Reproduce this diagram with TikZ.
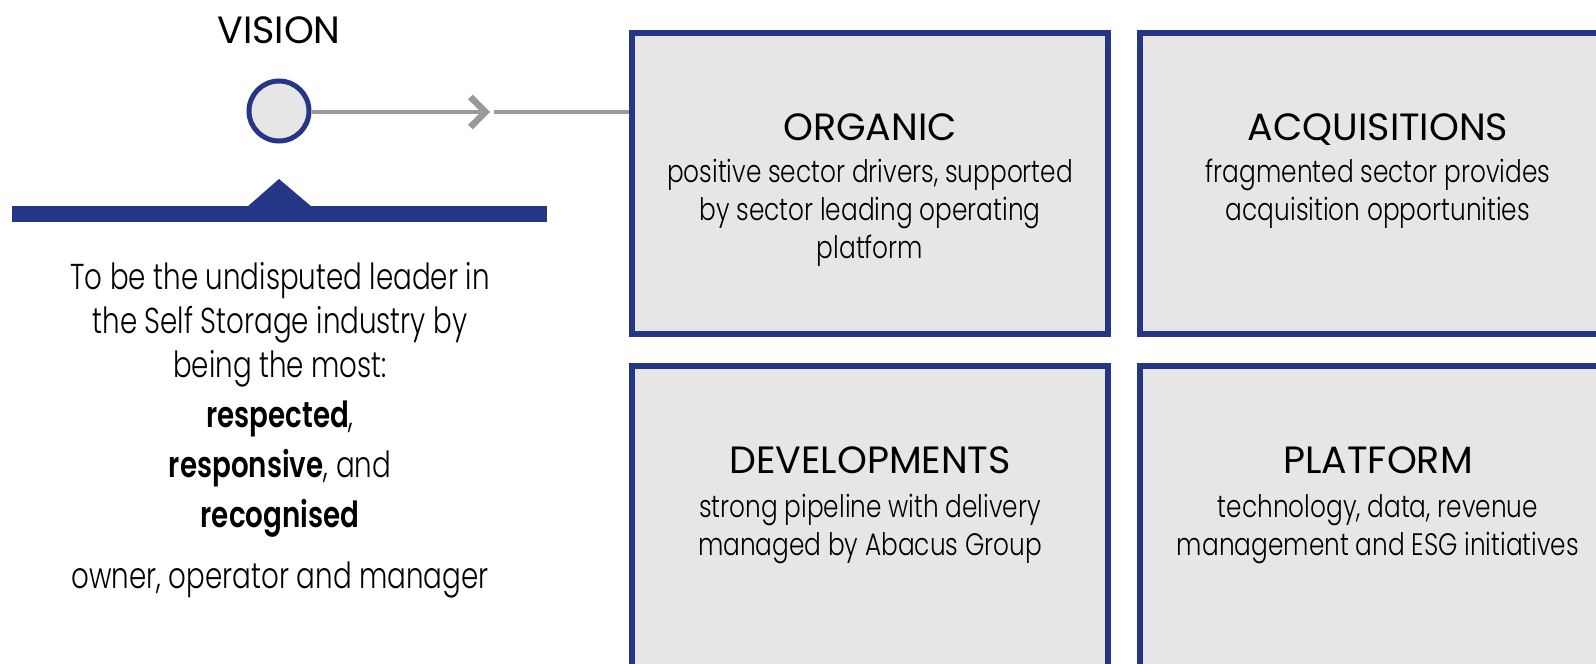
\documentclass[tikz,border=0pt]{standalone}
\usepackage{fontspec}
\usetikzlibrary{arrows.meta,positioning}
\setmainfont{Poppins}[UprightFont={* Light}, BoldFont={* SemiBold}]
\newfontfamily\leftfont{Poppins}[UprightFont={* Light}, BoldFont={* SemiBold}, FakeStretch=0.77]
\newfontfamily\headfont{Poppins}
\newfontfamily\boxfont{Poppins}[UprightFont={* Light}, FakeStretch=0.8]
\definecolor{navy}{HTML}{253686}
\definecolor{boxgray}{HTML}{E6E6E6}
\definecolor{linegray}{HTML}{999999}

\begin{document}
\begin{tikzpicture}[x=1pt, y=-1pt, line cap=butt, node distance=26pt]
   \tikzset{pillar/.style={rectangle, draw=navy, fill=boxgray, line width=6pt, minimum width=476pt, minimum height=301pt},
            pillartitle/.style={font=\headfont\fontsize{38}{38}\selectfont, anchor=base, inner sep=0pt},
            pillartext/.style={font=\boxfont\fontsize{31}{38}\selectfont, align=center, anchor=base, inner sep=0pt},
            hub/.style={circle, draw=navy, fill=boxgray, line width=5pt, minimum size=60pt, inner sep=0pt},
            link/.style={draw=linegray, line width=4pt},}
   \useasboundingbox (0,0) rectangle (1596,664);

   % vision marker
   \node[pillartitle] (vision_t) at (279,43) {VISION};
   \node[hub] (vision) at (279,111) {};
   \coordinate (chev) at (490,112);

   % the four pillars
   \node[pillar] (organic) at (870,183.5) {};
   \node[pillar] (acquisitions) [right=of organic] {};
   \node[pillar] (developments) [below=of organic] {};
   \node[pillar] (platform) [right=of developments] {};

   % texts sit on the baseline of their last line
   \node[pillartitle] (organic_t) at ([yshift=-110pt]organic.north) {ORGANIC};
   \node[pillartext] (organic_d) at ([yshift=-228pt]organic.north) {positive sector drivers, supported\\by sector leading operating\\platform};
   \node[pillartitle] (acquisitions_t) at ([yshift=-110pt]acquisitions.north) {ACQUISITIONS};
   \node[pillartext] (acquisitions_d) at ([yshift=-190pt]acquisitions.north) {fragmented sector provides\\acquisition opportunities};
   \node[pillartitle] (developments_t) at ([yshift=-110pt]developments.north) {DEVELOPMENTS};
   \node[pillartext] (developments_d) at ([yshift=-192pt]developments.north) {strong pipeline with delivery\\managed by Abacus Group};
   \node[pillartitle] (platform_t) at ([yshift=-110pt]platform.north) {PLATFORM};
   \node[pillartext] (platform_d) at ([yshift=-192pt]platform.north) {technology, data, revenue\\management and ESG initiatives};

   % base bar with pointer
   \fill[navy] (12,206) rectangle (547,222);
   \fill[navy] (247,207) -- (279,179) -- (312,207) -- cycle;

   \node[font=\leftfont\fontsize{36}{44}\selectfont, align=center, anchor=base, inner sep=0pt] (statement) at (280,588)
      {To be the undisputed leader in\\the Self Storage industry by\\being the most:\\[6pt]
       \textbf{respected},\\[6pt]\textbf{responsive}, and\\[6pt]\textbf{recognised}\\[17pt]owner, operator and manager};

   \draw[link, -{Straight Barb[length=15pt, width=30pt, line width=6.5pt]}] (vision.east |- chev) -- (chev);
   \draw[link] ([xshift=4pt]chev) -- (organic.west |- chev);
 \end{tikzpicture}
\end{document}
